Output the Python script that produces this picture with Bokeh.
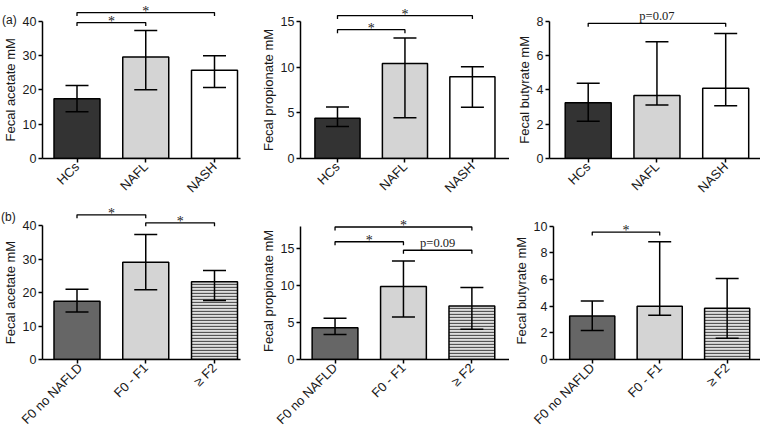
import math
from bokeh.plotting import figure
from bokeh.models import (ColumnDataSource, FixedTicker, Whisker, TeeHead,
                          LabelSet, Range1d, Title)
from bokeh.core.properties import value
from bokeh.layouts import column, row
from bokeh.embed import file_html
from bokeh.resources import INLINE

# ---------------- data ----------------
top_groups = ["HCs", "NAFL", "NASH"]
bottom_groups = ["F0 no NAFLD", "F0 - F1", "\u2265 F2"]

acetate_top = [17.4, 29.6, 25.7]
acetate_top_lo = [13.6, 20.0, 20.7]
acetate_top_hi = [21.3, 37.3, 29.9]
propionate_top = [4.42, 10.4, 8.95]
propionate_top_lo = [3.5, 4.45, 5.62]
propionate_top_hi = [5.65, 13.2, 10.05]
butyrate_top = [3.25, 3.67, 4.1]
butyrate_top_lo = [2.17, 3.12, 3.08]
butyrate_top_hi = [4.38, 6.8, 7.28]

acetate_bot = [17.4, 29.0, 23.2]
acetate_bot_lo = [14.2, 20.8, 17.6]
acetate_bot_hi = [21.0, 37.3, 26.6]
propionate_bot = [4.3, 9.9, 7.25]
propionate_bot_lo = [3.37, 5.77, 4.1]
propionate_bot_hi = [5.6, 13.35, 9.75]
butyrate_bot = [3.27, 4.0, 3.85]
butyrate_bot_lo = [2.18, 3.32, 1.6]
butyrate_bot_hi = [4.38, 8.84, 6.08]

acetate_ticks = [0, 10, 20, 30, 40]
propionate_ticks = [0, 5, 10, 15]
butyrate_top_ticks = [0, 2, 4, 6, 8]
butyrate_bot_ticks = [0, 2, 4, 6, 8, 10]

# significance brackets: (from group, to group), height, label
acetate_top_sig_pairs = [(0, 1), (0, 2)]
acetate_top_sig_y = [39.6, 42.5]
acetate_top_sig_lab = ["*", "*"]
propionate_top_sig_pairs = [(0, 1), (0, 2)]
propionate_top_sig_y = [14.1, 15.65]
propionate_top_sig_lab = ["*", "*"]
butyrate_top_sig_pairs = [(0, 2)]
butyrate_top_sig_y = [7.88]
butyrate_top_sig_lab = ["p=0.07"]

acetate_bot_sig_pairs = [(0, 1), (1, 2)]
acetate_bot_sig_y = [43.2, 40.8]
acetate_bot_sig_lab = ["*", "*"]
propionate_bot_sig_pairs = [(0, 2), (0, 1), (1, 2)]
propionate_bot_sig_y = [17.95, 15.95, 14.8]
propionate_bot_sig_lab = ["*", "*", "p=0.09"]
butyrate_bot_sig_pairs = [(0, 1)]
butyrate_bot_sig_y = [9.56]
butyrate_bot_sig_lab = ["*"]

# ---------------- style / layout ----------------
FONT = "Liberation Sans"
TXT = "#1a1a1a"
top_fills = ["#333333", "#d4d4d4", "#ffffff"]
top_hatch = [" ", " ", " "]
bot_fills = ["#666666", "#d4d4d4", "#dedede"]
bot_hatch = [" ", " ", "horizontal_line"]

PPX = 68.75          # px per category
BAR_W = 46 / PPX
CAP = 23
TITLE_PX = 13
# approximate advance widths (em) of the axis titles, used to centre them on the drawn axis
TITLE_EM = {"Fecal acetate mM": 7.946, "Fecal propionate mM": 9.392, "Fecal butyrate mM": 8.28}

ROW_TOP = dict(height=204, frame_h=158)
ROW_BOT = dict(height=231, frame_h=160)
TAG_W = 18

panels = [
    dict(row=ROW_TOP, groups=top_groups, mean=acetate_top, lo=acetate_top_lo, hi=acetate_top_hi,
         fills=top_fills, hatch=top_hatch, ylabel="Fecal acetate mM", ticks=acetate_ticks, bound=40,
         pairs=acetate_top_sig_pairs, sy=acetate_top_sig_y, slab=acetate_top_sig_lab,
         width=256 - TAG_W, mbl=42 - TAG_W, frame_w=198, off=34.5, ppy=3.4325,
         tag="(a)", tag_px=1.5, tag_py=19.5, title_cx=10),
    dict(row=ROW_TOP, groups=top_groups, mean=propionate_top, lo=propionate_top_lo, hi=propionate_top_hi,
         fills=top_fills, hatch=top_hatch, ylabel="Fecal propionate mM", ticks=propionate_ticks, bound=15,
         pairs=propionate_top_sig_pairs, sy=propionate_top_sig_y, slab=propionate_top_sig_lab,
         width=253, mbl=40, frame_w=213, off=37.7, ppy=9.133),
    dict(row=ROW_TOP, groups=top_groups, mean=butyrate_top, lo=butyrate_top_lo, hi=butyrate_top_hi,
         fills=top_fills, hatch=top_hatch, ylabel="Fecal butyrate mM", ticks=butyrate_top_ticks, bound=8,
         pairs=butyrate_top_sig_pairs, sy=butyrate_top_sig_y, slab=butyrate_top_sig_lab,
         width=251, mbl=40, frame_w=211, off=38.7, ppy=17.16),
    dict(row=ROW_BOT, groups=bottom_groups, mean=acetate_bot, lo=acetate_bot_lo, hi=acetate_bot_hi,
         fills=bot_fills, hatch=bot_hatch, ylabel="Fecal acetate mM", ticks=acetate_ticks, bound=40,
         pairs=acetate_bot_sig_pairs, sy=acetate_bot_sig_y, slab=acetate_bot_sig_lab,
         width=256 - TAG_W, mbl=42 - TAG_W, frame_w=198, off=34.5, ppy=3.4575,
         tag="(b)", tag_px=0.5, tag_py=13, title_cx=10),
    dict(row=ROW_BOT, groups=bottom_groups, mean=propionate_bot, lo=propionate_bot_lo, hi=propionate_bot_hi,
         fills=bot_fills, hatch=bot_hatch, ylabel="Fecal propionate mM", ticks=propionate_ticks, bound=18,
         pairs=propionate_bot_sig_pairs, sy=propionate_bot_sig_y, slab=propionate_bot_sig_lab,
         width=253, mbl=43, frame_w=210, off=34.7, ppy=7.62),
    dict(row=ROW_BOT, groups=bottom_groups, mean=butyrate_bot, lo=butyrate_bot_lo, hi=butyrate_bot_hi,
         fills=bot_fills, hatch=bot_hatch, ylabel="Fecal butyrate mM", ticks=butyrate_bot_ticks, bound=10,
         pairs=butyrate_bot_sig_pairs, sy=butyrate_bot_sig_y, slab=butyrate_bot_sig_lab,
         width=251, mbl=40, frame_w=211, off=39.5, ppy=13.76),
]


def make_panel(c):
    r = c["row"]
    x0 = -c["off"] / PPX
    x1 = x0 + c["frame_w"] / PPX
    y1 = r["frame_h"] / c["ppy"]
    mbr = c["width"] - c["mbl"] - c["frame_w"]
    p = figure(width=c["width"], height=r["height"], x_range=Range1d(x0, x1), y_range=Range1d(0, y1),
               output_backend="svg", toolbar_location=None, title=None,
               min_border_left=c["mbl"], min_border_right=mbr, min_border_top=0,
               min_border_bottom=r["height"] - r["frame_h"],
               outline_line_color=None, background_fill_color="white", border_fill_color="white")
    p.grid.visible = False
    n = len(c["groups"])
    xs = list(range(n))
    src = ColumnDataSource(dict(x=xs, top=c["mean"], lo=c["lo"], hi=c["hi"],
                                fill=c["fills"], hatch=c["hatch"]))
    p.vbar(x="x", top="top", width=BAR_W, source=src, fill_color="fill", line_color="black",
           line_width=1.5, hatch_pattern="hatch", hatch_color="#555555", hatch_scale=3,
           hatch_weight=1.3)
    wk = Whisker(source=src, base="x", lower="lo", upper="hi", line_color="black", line_width=1.5,
                 upper_head=TeeHead(size=CAP, line_color="black", line_width=1.5),
                 lower_head=TeeHead(size=CAP, line_color="black", line_width=1.5),
                 level="overlay")
    p.add_layout(wk)

    # significance brackets
    drop = 3.5 / c["ppy"]
    bxs, bys, mx, my, labs = [], [], [], [], []
    for (a, b), yv, lab in zip(c["pairs"], c["sy"], c["slab"]):
        bxs.append([a, a, b, b])
        bys.append([yv - drop, yv, yv, yv - drop])
        mx.append((a + b) / 2)
        my.append(yv)
        labs.append(lab)
    p.multi_line(xs=bxs, ys=bys, line_color="black", line_width=1.3)
    star_src = ColumnDataSource(dict(x=[m for m, l in zip(mx, labs) if l == "*"],
                                     y=[m for m, l in zip(my, labs) if l == "*"],
                                     t=[l for l in labs if l == "*"]))
    p.add_layout(LabelSet(x="x", y="y", text="t", source=star_src, text_align="center",
                          text_baseline="alphabetic", y_offset=-3, text_font=FONT,
                          text_font_size="14px", text_color=TXT))
    ptxt = ColumnDataSource(dict(x=[m for m, l in zip(mx, labs) if l != "*"],
                                 y=[m for m, l in zip(my, labs) if l != "*"],
                                 t=[l for l in labs if l != "*"]))
    p.add_layout(LabelSet(x="x", y="y", text="t", source=ptxt, text_align="center",
                          text_baseline="alphabetic", y_offset=3, text_font=FONT,
                          text_font_size="12.5px", text_color=TXT))

    # axes
    for ax in (p.xaxis[0], p.yaxis[0]):
        ax.axis_line_width = 1.5
        ax.axis_line_color = "black"
        ax.major_tick_line_width = 1.5
        ax.major_tick_line_color = "black"
        ax.major_tick_in = 0
        ax.major_tick_out = 4
        ax.minor_tick_line_color = None
        ax.major_label_text_font = FONT
        ax.major_label_text_color = TXT
        ax.major_label_standoff = 2
    xa = p.xaxis[0]
    xa.ticker = FixedTicker(ticks=xs)
    xa.major_label_overrides = {i: g for i, g in enumerate(c["groups"])}
    xa.major_label_orientation = math.pi / 4
    xa.major_label_text_font_size = "13px"
    ya = p.yaxis[0]
    ya.ticker = FixedTicker(ticks=c["ticks"])
    ya.bounds = (0, c["bound"])
    ya.major_label_text_font_size = "12.5px"

    tag_fig = None
    if "tag" in c:
        # narrow strip left of the panel carrying the panel tag and the y-axis title.
        # In a row its frame is aligned with the neighbouring panel's frame (top frame_h px),
        # so its y range spans exactly that part of the canvas (values = px from the bottom).
        H = r["height"]
        tag_fig = figure(width=TAG_W, height=H, x_range=Range1d(0, TAG_W),
                         y_range=Range1d(H - r["frame_h"], H),
                         output_backend="svg", toolbar_location=None, title=None,
                         x_axis_location=None, y_axis_location=None, min_border=0,
                         min_border_bottom=H - r["frame_h"],
                         outline_line_color=None, background_fill_color="white",
                         border_fill_color="white")
        tag_fig.grid.visible = False
        tag_fig.text(x=[c["tag_px"]], y=[H - c["tag_py"]], text=[c["tag"]], text_align="left",
                     text_baseline="alphabetic", text_font=value(FONT), text_font_size="12px",
                     text_color=TXT)
        axis_mid_px = r["frame_h"] - c["bound"] * c["ppy"] / 2
        tag_fig.text(x=[c["title_cx"]], y=[H - axis_mid_px], text=[c["ylabel"]], angle=math.pi / 2,
                     text_align="center", text_baseline="middle", text_font=value(FONT),
                     text_font_size=f"{TITLE_PX}px", text_color=TXT)
    else:
        # y-axis title, placed in the left panel and centred on the drawn axis (0 .. bound)
        L = TITLE_EM[c["ylabel"]] * TITLE_PX
        offset = c["bound"] * c["ppy"] / 2 - L / 2
        p.add_layout(Title(text=c["ylabel"], align="left", offset=offset, standoff=4, text_font=FONT,
                           text_font_size=f"{TITLE_PX}px", text_font_style="normal",
                           text_color=TXT), "left")
    return p, tag_fig


built = [make_panel(c) for c in panels]


def row_of(items):
    kids = []
    for p, tag in items:
        if tag is not None:
            kids.append(tag)
        kids.append(p)
    return row(*kids, spacing=0)


layout = column(row_of(built[:3]), row_of(built[3:]), spacing=0)

open("out.html", "w").write(file_html(layout, INLINE))
